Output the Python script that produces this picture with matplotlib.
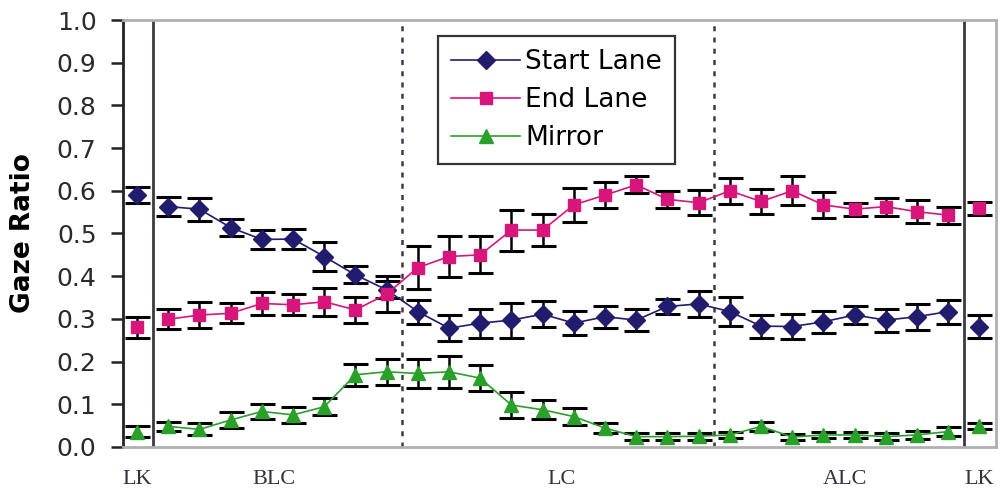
import matplotlib

matplotlib.use("Agg")

import matplotlib.pyplot as plt
import numpy as np

# Gaze ratio per time bin: LK | BLC ... LC ... ALC | LK
start_lane = [0.590, 0.563, 0.557, 0.514, 0.486, 0.487, 0.446, 0.403, 0.368, 0.317,
              0.278, 0.290, 0.297, 0.311, 0.290, 0.305, 0.297, 0.329, 0.335, 0.317,
              0.283, 0.282, 0.293, 0.309, 0.297, 0.305, 0.317, 0.282]
start_err = [0.018, 0.022, 0.027, 0.020, 0.022, 0.024, 0.033, 0.020, 0.020, 0.028,
             0.030, 0.034, 0.041, 0.030, 0.028, 0.026, 0.025, 0.018, 0.030, 0.034,
             0.027, 0.030, 0.026, 0.022, 0.027, 0.030, 0.028, 0.026]
end_lane = [0.280, 0.299, 0.309, 0.313, 0.336, 0.333, 0.340, 0.321, 0.358, 0.420,
            0.446, 0.450, 0.508, 0.508, 0.567, 0.590, 0.614, 0.580, 0.572, 0.600,
            0.575, 0.600, 0.567, 0.557, 0.563, 0.551, 0.543, 0.559]
end_err = [0.024, 0.023, 0.030, 0.023, 0.027, 0.025, 0.033, 0.031, 0.042, 0.050,
           0.047, 0.043, 0.048, 0.038, 0.039, 0.031, 0.020, 0.020, 0.029, 0.030,
           0.030, 0.034, 0.030, 0.015, 0.021, 0.027, 0.020, 0.015]
mirror = [0.036, 0.048, 0.041, 0.063, 0.083, 0.075, 0.094, 0.169, 0.176, 0.172,
          0.176, 0.161, 0.098, 0.087, 0.071, 0.044, 0.024, 0.024, 0.025, 0.028,
          0.048, 0.023, 0.028, 0.028, 0.024, 0.028, 0.036, 0.049]
mirror_err = [0.012, 0.011, 0.014, 0.018, 0.018, 0.018, 0.020, 0.026, 0.031, 0.035,
              0.037, 0.030, 0.031, 0.022, 0.020, 0.012, 0.008, 0.008, 0.008, 0.008,
              0.010, 0.008, 0.008, 0.008, 0.008, 0.010, 0.010, 0.008]

phase_labels = ["LK", "BLC", "LC", "ALC", "LK"]
phase_label_pos = [0, 4.4, 13.6, 22.7, 27]
solid_dividers = [0.5, 26.5]
dotted_dividers = [8.5, 18.5]

SERIES = [
    ("Start Lane", start_lane, start_err, "#221c6e", "D", 9),
    ("End Lane", end_lane, end_err, "#d8157a", "s", 9),
    ("Mirror", mirror, mirror_err, "#2aa02a", "^", 10),
]

x = np.arange(len(start_lane))
inner = slice(1, len(start_lane) - 1)
lk_idx = [0, len(start_lane) - 1]

fig = plt.figure(figsize=(10.04, 4.90), dpi=100)
ax = fig.add_axes([0.1225, 0.088, 0.8695, 0.871])

for name, vals, errs, color, marker, msize in SERIES:
    vals = np.asarray(vals)
    errs = np.asarray(errs)
    ax.errorbar(x, vals, yerr=errs, fmt="none", ecolor="black", elinewidth=1.8,
                capsize=9, capthick=2.2, zorder=2)
    ax.plot(x[inner], vals[inner], color=color, lw=1.2, marker=marker, ms=msize,
            mec=color, mfc=color, zorder=3, label=name)
    ax.plot(x[lk_idx], vals[lk_idx], ls="none", marker=marker, ms=msize,
            mec=color, mfc=color, zorder=3)

for xv in solid_dividers:
    ax.axvline(xv, color="#3a3a44", lw=2, zorder=1)
for xv in dotted_dividers:
    ax.axvline(xv, color="#3a3a44", lw=1.8, ls=(0, (2, 2.5)), zorder=1)

ax.set_xlim(-0.45, 27.53)
ax.set_ylim(0, 1.0)
yticks = np.arange(0, 1.01, 0.1)
ax.set_yticks(yticks)
ax.set_yticklabels([f"{v:.1f}" for v in yticks], fontsize=18, color="#2a2a2a")
ax.set_xticks([])
ax.tick_params(axis="y", direction="out", length=9, width=1.8, color="#222222", pad=10)

ax.spines["left"].set_color("#222222")
ax.spines["left"].set_linewidth(2)
for side in ("top", "right", "bottom"):
    ax.spines[side].set_color("#b0b0b0")
    ax.spines[side].set_linewidth(2)

ax.set_ylabel("Gaze Ratio", fontsize=19, fontweight="bold")
ax.yaxis.set_label_coords(-0.10, 0.5)

for lbl, pos in zip(phase_labels, phase_label_pos):
    ax.text(pos, -0.076, lbl, ha="center", va="center", fontsize=16,
            family=["Liberation Serif", "DejaVu Serif"], color="#333340")

leg = ax.legend(loc="upper left", bbox_to_anchor=(0.361, 0.9625), fontsize=19,
                frameon=True, fancybox=False, handlelength=2.6, handletextpad=0.2,
                borderpad=0.5, labelspacing=0.45, borderaxespad=0)
leg.get_frame().set_edgecolor("black")
leg.get_frame().set_linewidth(1.6)

fig.savefig("out.png", dpi=100)
